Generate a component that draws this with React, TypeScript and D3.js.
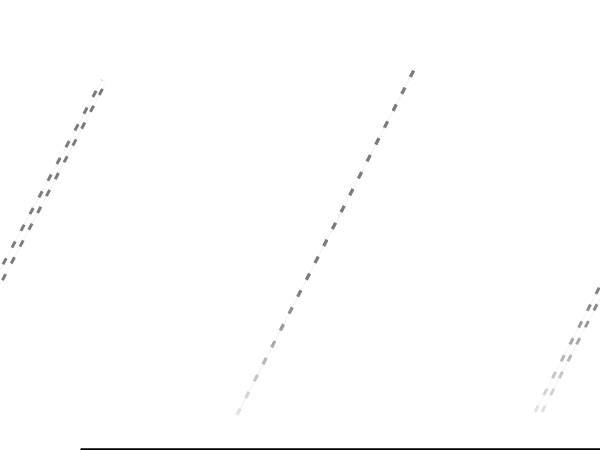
import { useEffect, useRef } from 'react';
import * as d3 from 'd3';

// rising edges of the wave, null breaks the path (falling edges are not drawn)
const seriesAX = [-7.8, 10.2, null, 23.7, 41.5, null, 53.5, 63];
const seriesAY = [8.25, 92, null, 8.25, 95, null, 9, 55];
const seriesBX = [-6.8, 10.5, null, 23.7, 41.5, null, 54.2, 63.6];
const seriesBY = [8.25, 91, null, 8.25, 95, null, 9, 55];

export default function App() {
  const svgRef = useRef<SVGSVGElement>(null);

  useEffect(() => {
    if (!svgRef.current) return;
    const svg = d3.select(svgRef.current);
    svg.selectAll('*').remove();

    const width = 600;

    const xScale = d3.scaleLinear().domain([0, 60]).range([0, width]);
    const yScale = d3.scaleLinear().domain([0, 100]).range([448, 48]);

    // fade from light at the bottom to mid gray at the top
    const defs = svg.append('defs');
    const grad = defs.append('linearGradient')
      .attr('id', 'fade')
      .attr('gradientUnits', 'userSpaceOnUse')
      .attr('x1', 0).attr('x2', 0)
      .attr('y1', yScale(8)).attr('y2', yScale(40));
    grad.append('stop').attr('offset', '0%').attr('stop-color', '#e6e6e6');
    grad.append('stop').attr('offset', '100%').attr('stop-color', '#7c7c7c');

    const toPoints = (xs: (number | null)[], ys: (number | null)[]) =>
      xs.map((x, i) => ({ x, y: ys[i] }));

    const line = d3.line<any>()
      .defined(d => d.x !== null)
      .x(d => xScale(d.x))
      .y(d => yScale(d.y));

    const series = [toPoints(seriesAX, seriesAY), toPoints(seriesBX, seriesBY)];

    series.forEach(data => {
      // faint base line
      svg.append('path')
        .datum(data)
        .attr('d', line)
        .attr('fill', 'none')
        .attr('stroke', '#f2f2f2')
        .attr('stroke-width', 1);

      svg.append('path')
        .datum(data)
        .attr('d', line)
        .attr('fill', 'none')
        .attr('stroke', 'url(#fade)')
        .attr('stroke-width', 3)
        .attr('stroke-dasharray', '7,12');
    });

    // x axis baseline
    const axisScale = xScale.copy().domain([8, 60]).range([xScale(8), xScale(60)]);
    const axis = svg.append('g')
      .attr('transform', `translate(0,${yScale(0) + 1})`)
      .call(d3.axisBottom(axisScale).tickSize(0).tickFormat(() => ''));
    axis.select('.domain').attr('stroke', '#000').attr('stroke-width', 2.5);
  }, []);

  return (
    <svg
      ref={svgRef}
      width={600}
      height={450}
      style={{ position: 'absolute', left: 0, top: 0, background: '#fff' }}
    />
  );
}
